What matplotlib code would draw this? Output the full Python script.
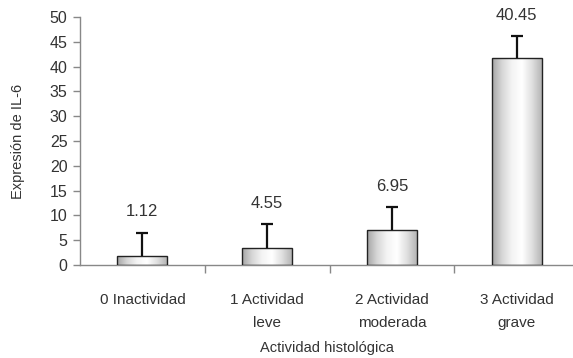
import matplotlib
matplotlib.use("Agg")
import matplotlib.pyplot as plt
import numpy as np
from matplotlib.colors import LinearSegmentedColormap

categorias = ["0 Inactividad", "1 Actividad\nleve", "2 Actividad\nmoderada", "3 Actividad\ngrave"]
alturas = [1.8, 3.4, 7.0, 41.7]
errores = [4.7, 4.8, 4.7, 4.5]
etiquetas = ["1.12", "4.55", "6.95", "40.45"]

plt.rcParams["font.family"] = ["Liberation Sans", "DejaVu Sans"]
gris_texto = "#333333"

fig = plt.figure(figsize=(5.73, 3.58), dpi=100)
ax = fig.add_axes([80 / 573, 93 / 358, 493 / 573, 248 / 358])

x = np.arange(len(categorias))
ancho = 0.4

barras = ax.bar(x, alturas, width=ancho, color="none", edgecolor="#222222", linewidth=1.0, zorder=3)

# relleno degradado tipo cilindro
cmap = LinearSegmentedColormap.from_list(
    "cil", ["#a5a5a5", "#d6d6d6", "#f4f4f4", "#ffffff", "#e0e0e0", "#b5b5b5"])
grad = np.linspace(0, 1, 256).reshape(1, -1)
for b in barras:
    x0, y0 = b.get_x(), b.get_y()
    im = ax.imshow(grad, cmap=cmap, aspect="auto", zorder=2,
                   extent=[x0, x0 + b.get_width(), y0, y0 + b.get_height()])
    im.set_clip_path(b)

eb = ax.errorbar(x, alturas, yerr=[np.zeros(len(errores)), errores], fmt="none",
                 ecolor="#111111", elinewidth=1.6, capsize=4, capthick=1.6, zorder=4)
eb[1][0].set_visible(False)  # sin tapa abajo

for xi, h, e, t in zip(x, alturas, errores, etiquetas):
    ax.annotate(t, (xi, h + e), xytext=(0, 15), textcoords="offset points",
                ha="center", va="center", fontsize=12, color=gris_texto)

ax.set_xlim(-0.5, 3.45)
ax.set_ylim(0, 50)
ax.set_yticks(np.arange(0, 51, 5))
ax.set_xticks(x)
ax.set_xticklabels(categorias, fontsize=11, color=gris_texto, linespacing=1.8)
ax.set_xticks(x[:-1] + 0.5, minor=True)
ax.tick_params(axis="x", which="major", length=0, pad=20)
ax.tick_params(axis="x", which="minor", length=6, color="#888888", width=1)
ax.tick_params(axis="y", length=5, color="#888888", width=1, labelsize=11.5, labelcolor=gris_texto, pad=4)

for lado in ["top", "right"]:
    ax.spines[lado].set_visible(False)
for lado in ["left", "bottom"]:
    ax.spines[lado].set_color("#888888")
    ax.spines[lado].set_linewidth(1)

ax.set_ylabel("Expresión de IL-6", fontsize=10.5, color=gris_texto, labelpad=18)
ax.set_xlabel("Actividad histológica", fontsize=10.5, color=gris_texto, labelpad=8)

fig.savefig("out.png", dpi=100)
